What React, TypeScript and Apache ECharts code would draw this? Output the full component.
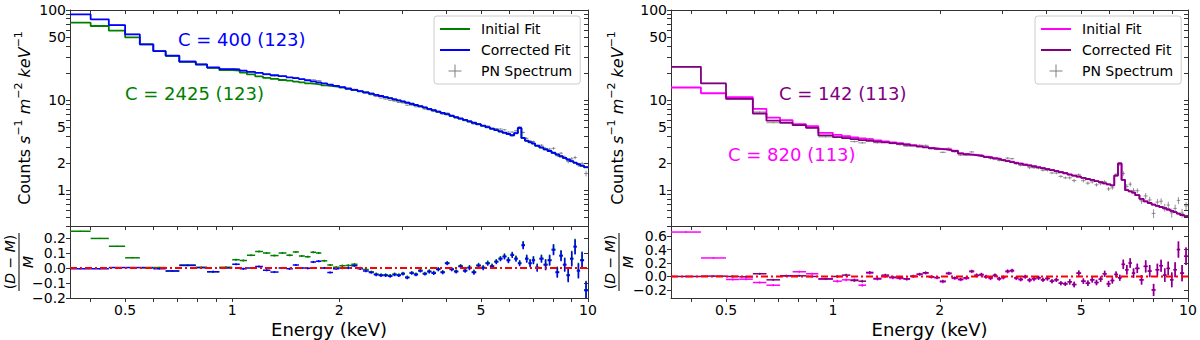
import React, { useEffect, useRef } from 'react';
import * as echarts from 'echarts';

// ---------------- data ----------------
const X_MIN = 0.35;
const X_MAX = 10;
const TOP_Y_MIN = 0.4;
const TOP_Y_MAX = 100;
const X_LABELS = [0.5, 1, 2, 5, 10];
const X_TICKS = [0.4, 0.5, 0.6, 0.7, 0.8, 0.9, 1, 2, 3, 4, 5, 6, 7, 8, 9, 10];
const TOP_Y_LABELS = [1, 2, 5, 10, 50, 100];
const TOP_Y_TICKS = [0.4, 0.5, 0.6, 0.7, 0.8, 0.9, 1, 2, 3, 4, 5, 6, 7, 8, 9, 10, 20, 30, 40, 50, 60, 70, 80, 90, 100];
const LEFT_RES_RANGE = [-0.2, 0.28];
const LEFT_RES_TICKS = [-0.2, -0.1, 0, 0.1, 0.2];
const RIGHT_RES_RANGE = [-0.32, 0.75];
const RIGHT_RES_TICKS = [-0.2, 0, 0.2, 0.4, 0.6];

const LEGEND_NAMES = ['Initial Fit', 'Corrected Fit', 'PN Spectrum'];
const LEFT_STATS = ['C = 400 (123)', 'C = 2425 (123)'];
const RIGHT_STATS = ['C = 142 (113)', 'C = 820 (113)'];

// Left panel
const LEFT_EDGES = [0.35, 0.40, 0.45, 0.50, 0.55, 0.60, 0.65, 0.71, 0.79, 0.85, 0.92, 1.0,
  1.05, 1.10, 1.16, 1.22, 1.28, 1.35, 1.42, 1.48, 1.54, 1.60, 1.66, 1.72, 1.78, 1.85, 1.92, 2.0,
  2.08, 2.16, 2.25, 2.33, 2.42, 2.50, 2.58, 2.66, 2.74, 2.82, 2.90, 2.98, 3.06, 3.15, 3.24, 3.33, 3.43, 3.53, 3.63, 3.74,
  3.85, 3.96, 4.08, 4.20, 4.32, 4.45, 4.58, 4.71, 4.85, 5.0, 5.15, 5.3, 5.45, 5.6, 5.75, 5.9, 6.05, 6.2, 6.35, 6.5,
  6.65, 6.8, 6.95, 7.1, 7.3, 7.5, 7.7, 7.9, 8.1, 8.3, 8.5, 8.7, 8.9, 9.1, 9.3, 9.5, 9.75, 10.0];
const LEFT_CORRECTED = [89.5, 78.8, 68.1, 53.7, 41.6, 35.0, 31.1, 26.7, 24.9, 23.1, 22.1,
  21.8, 21.2, 20.6, 20.0, 19.4, 18.9, 18.4, 17.9, 17.5, 17.05, 16.6, 16.15, 15.75, 15.3, 14.85, 14.35,
  13.9, 13.45, 13.0, 12.6, 12.2, 11.8, 11.45, 11.1, 10.8, 10.5, 10.2, 9.9, 9.68, 9.39, 9.10, 8.82, 8.55, 8.28, 8.0, 7.73,
  7.46, 7.2, 6.97, 6.70, 6.47, 6.24, 6.02, 5.81, 5.6, 5.40, 5.20, 5.0, 4.82, 4.65, 4.50, 4.35, 4.20, 4.07, 4.3, 4.9,
  3.8, 3.55, 3.42, 3.3, 3.12, 2.98, 2.84, 2.72, 2.6, 2.49, 2.38, 2.28, 2.19, 2.1, 2.02, 1.95, 1.87, 1.80];
const LEFT_INITIAL = [72.3, 66.4, 58.9, 49.7, 41.5, 34.9, 31.0, 26.6, 24.8, 22.8, 21.5,
  21.2, 20.2, 19.25, 18.35, 17.65, 17.2, 16.7, 16.4, 16.05, 15.7, 15.35, 15.1, 14.85, 14.55, 14.3, 14.05,
  13.75, 13.3, 12.9, 12.5, 12.15, 11.75, 11.4, 11.05, 10.75, 10.45, 10.15, 9.85, 9.63, 9.34, 9.05, 8.78, 8.51, 8.24, 7.96, 7.69,
  7.42, 7.16, 6.94, 6.67, 6.44, 6.21, 5.99, 5.78, 5.57, 5.37, 5.17, 4.98, 4.8, 4.63, 4.48, 4.33, 4.18, 4.05, 4.28, 4.88,
  3.78, 3.53, 3.4, 3.28, 3.1, 2.97, 2.83, 2.71, 2.59, 2.48, 2.37, 2.27, 2.18, 2.09, 2.01, 1.94, 1.86, 1.79];
const LEFT_RES_CORR = [-0.005, -0.005, 0.003, 0.003, 0.002, -0.005, -0.02, 0.017, 0.002, -0.025, 0.0,
  0.025, -0.005, 0.0, 0.01, -0.015, -0.027, 0.0, -0.005, 0.02, 0.0, -0.002, 0.04, 0.045, 0.0, -0.03, -0.005,
  0.0, 0.0, 0.015, -0.005, -0.02, -0.03, -0.045, -0.05, -0.05, -0.055, -0.045, -0.05, -0.04, -0.065, -0.035, -0.045, -0.02, -0.04, -0.025, -0.035,
  -0.01, -0.03, 0.03, -0.01, -0.025, 0.01, -0.02, 0.0, -0.03, 0.015, 0.0, 0.03, 0.01, 0.04, 0.06, 0.075, 0.05, 0.085, 0.06, 0.03,
  0.15, 0.06, 0.03, 0.05, 0.0, 0.06, 0.02, 0.05, 0.12, -0.03, 0.08, 0.02, -0.05, 0.06, 0.14, -0.02, 0.05, -0.15];
const LEFT_RES_INIT = [0.245, 0.197, 0.145, 0.068, 0.003, 0.003, -0.02, 0.02, 0.005, -0.025, 0.005,
  0.055, 0.05, 0.085, 0.11, 0.10, 0.083, 0.10, 0.085, 0.107, 0.08, 0.075, 0.105, 0.10, 0.048, 0.02, 0.005,
  0.015, 0.017, 0.025, 0.0, -0.01, -0.025, -0.04, -0.045, -0.045, -0.05, -0.04, -0.045, -0.035, -0.06, -0.03, -0.04, -0.015, -0.035, -0.02, -0.03,
  -0.005, -0.025, 0.035, -0.005, -0.02, 0.015, -0.015, 0.005, -0.025, 0.02, 0.005, 0.035, 0.015, 0.045, 0.065, 0.08, 0.055, 0.09, 0.065, 0.035,
  0.155, 0.065, 0.035, 0.055, 0.005, 0.065, 0.025, 0.055, 0.125, -0.025, 0.085, 0.025, -0.045, 0.065, 0.145, -0.015, 0.055, -0.145];
const LEFT_ERR = [0.004, 0.004, 0.004, 0.004, 0.004, 0.005, 0.005, 0.005, 0.005, 0.006, 0.006,
  0.007, 0.007, 0.007, 0.007, 0.007, 0.007, 0.007, 0.007, 0.007, 0.007, 0.007, 0.007, 0.007, 0.007, 0.007, 0.007,
  0.008, 0.008, 0.008, 0.008, 0.008, 0.008, 0.01, 0.01, 0.01, 0.01, 0.01, 0.01, 0.01, 0.01, 0.01, 0.01, 0.01, 0.01, 0.012, 0.012,
  0.012, 0.012, 0.012, 0.012, 0.012, 0.012, 0.012, 0.015, 0.015, 0.015, 0.015, 0.015, 0.015, 0.015, 0.015, 0.018, 0.018, 0.018, 0.018, 0.018,
  0.025, 0.025, 0.025, 0.025, 0.025, 0.025, 0.035, 0.035, 0.035, 0.035, 0.035, 0.045, 0.045, 0.05, 0.05, 0.05, 0.055, 0.06];

// Right panel
const RIGHT_EDGES = [0.35, 0.425, 0.50, 0.545, 0.595, 0.65, 0.71, 0.77, 0.84, 0.91, 1.0,
  1.06, 1.12, 1.18, 1.24, 1.30, 1.37, 1.44, 1.51, 1.58, 1.65, 1.72, 1.79, 1.86, 1.93, 2.0,
  2.08, 2.16, 2.25, 2.33, 2.42, 2.50, 2.58, 2.66, 2.74, 2.82, 2.90, 2.98, 3.06, 3.15, 3.24, 3.33, 3.43, 3.53, 3.63, 3.74,
  3.85, 3.96, 4.08, 4.20, 4.32, 4.45, 4.58, 4.71, 4.85, 5.0, 5.15, 5.3, 5.45, 5.6, 5.75, 5.9, 6.05, 6.2, 6.35, 6.5,
  6.65, 6.8, 6.95, 7.1, 7.3, 7.5, 7.7, 7.9, 8.1, 8.3, 8.5, 8.7, 8.9, 9.1, 9.3, 9.5, 9.75, 10.0];
const RIGHT_CORRECTED = [23.4, 15.3, 10.3, 10.3, 7.1, 5.9, 5.6, 5.27, 4.92, 4.05,
  3.88, 3.78, 3.68, 3.6, 3.53, 3.46, 3.39, 3.32, 3.26, 3.19, 3.12, 3.05, 2.98, 2.92, 2.87,
  2.83, 2.78, 2.72, 2.55, 2.5, 2.46, 2.42, 2.38, 2.33, 2.29, 2.24, 2.2, 2.15, 2.10, 2.05, 2.0, 1.96, 1.91, 1.87, 1.83,
  1.79, 1.75, 1.71, 1.67, 1.63, 1.58, 1.54, 1.49, 1.45, 1.41, 1.37, 1.33, 1.3, 1.26, 1.23, 1.19, 1.16, 1.13, 1.45, 1.98,
  1.3, 1.0, 0.97, 0.94, 0.88, 0.8, 0.75, 0.72, 0.69, 0.67, 0.65, 0.63, 0.61, 0.59, 0.57, 0.55, 0.53, 0.515];
const RIGHT_INITIAL = [13.8, 11.9, 10.8, 10.8, 8.0, 6.4, 6.0, 5.4, 5.14, 4.33,
  4.1, 3.98, 3.85, 3.75, 3.66, 3.57, 3.48, 3.4, 3.32, 3.24, 3.16, 3.08, 3.01, 2.94, 2.88,
  2.86, 2.81, 2.75, 2.58, 2.53, 2.48, 2.44, 2.40, 2.35, 2.31, 2.26, 2.22, 2.17, 2.12, 2.07, 2.02, 1.98, 1.93, 1.89, 1.85,
  1.8, 1.76, 1.72, 1.68, 1.64, 1.59, 1.55, 1.5, 1.45, 1.41, 1.37, 1.33, 1.3, 1.26, 1.23, 1.19, 1.16, 1.13, 1.45, 1.98,
  1.3, 1.0, 0.97, 0.94, 0.88, 0.8, 0.75, 0.72, 0.69, 0.67, 0.65, 0.63, 0.61, 0.59, 0.57, 0.55, 0.53, 0.515];
const RIGHT_RES_CORR = [0.0, 0.005, 0.0, -0.005, 0.04, -0.05, 0.01, 0.01, 0.0, -0.035,
  0.0, 0.02, -0.06, -0.07, 0.06, -0.03, 0.02, -0.01, -0.02, -0.035, 0.005, 0.035, 0.055, -0.005, -0.015,
  -0.07, 0.05, -0.02, -0.04, -0.02, 0.08, 0.02, 0.03, 0.0, -0.02, 0.02, -0.03, -0.01, 0.08, 0.09, -0.02, -0.04, 0.0, -0.05, -0.03,
  -0.02, -0.05, -0.03, -0.07, -0.05, -0.1, -0.11, -0.08, -0.12, 0.05, -0.07, -0.1, -0.05, -0.09, -0.04, 0.04, -0.11, -0.06, 0.03, -0.02,
  0.18, 0.1, 0.2, 0.05, 0.12, -0.05, 0.15, 0.08, -0.2, 0.1, 0.16, 0.02, 0.12, -0.05, 0.1, 0.4, 0.05, 0.3];
const RIGHT_RES_INIT = [0.66, 0.275, -0.045, -0.04, -0.09, -0.13, 0.01, 0.07, 0.04, -0.04,
  -0.07, -0.05, -0.05, -0.13, 0.05, -0.04, 0.0, -0.02, -0.03, -0.04, 0.0, 0.03, 0.05, -0.01, -0.02,
  -0.08, 0.04, -0.03, -0.05, -0.03, 0.07, 0.01, 0.02, -0.01, -0.03, 0.01, -0.04, -0.02, 0.07, 0.08, -0.03, -0.05, -0.01, -0.06, -0.04,
  -0.02, -0.05, -0.03, -0.07, -0.05, -0.1, -0.11, -0.08, -0.12, 0.05, -0.07, -0.1, -0.05, -0.09, -0.04, 0.04, -0.11, -0.06, 0.03, -0.02,
  0.18, 0.1, 0.2, 0.05, 0.12, -0.05, 0.15, 0.08, -0.2, 0.1, 0.16, 0.02, 0.12, -0.05, 0.1, 0.4, 0.05, 0.3];
const RIGHT_ERR = [0.012, 0.012, 0.015, 0.015, 0.015, 0.015, 0.015, 0.015, 0.015, 0.015,
  0.02, 0.02, 0.02, 0.02, 0.02, 0.02, 0.02, 0.02, 0.02, 0.02, 0.02, 0.02, 0.02, 0.02, 0.02,
  0.02, 0.02, 0.02, 0.02, 0.02, 0.02, 0.025, 0.025, 0.025, 0.025, 0.025, 0.025, 0.025, 0.025, 0.025, 0.025, 0.025, 0.025, 0.03, 0.03,
  0.03, 0.03, 0.03, 0.03, 0.03, 0.03, 0.03, 0.04, 0.04, 0.04, 0.04, 0.04, 0.04, 0.04, 0.04, 0.045, 0.045, 0.045, 0.045, 0.045,
  0.07, 0.07, 0.07, 0.07, 0.07, 0.07, 0.09, 0.09, 0.09, 0.09, 0.09, 0.1, 0.1, 0.11, 0.11, 0.12, 0.12, 0.13];

// ---------------- styling ----------------
const FONT = 'DejaVu Sans';
const AXIS = '#333333';
const L = (v: number) => Math.log10(v);

const LINE_ICON = 'path://M0 0H30V2H0Z';
const PLUS_ICON = 'path://M0 6H13V7H0Z M6 0H7V13H6Z';

type Panel = {
  edges: number[]; corrected: number[]; initial: number[];
  resCorr: number[]; resInit: number[]; err: number[];
  colInit: string; colCorr: string; suffix: string;
  resRange: number[]; resTicks: number[];
};

function stepLine(edges: number[], vals: number[]) {
  const out: number[][] = [];
  for (let i = 0; i < vals.length; i++) {
    out.push([L(edges[i]), L(vals[i])], [L(edges[i + 1]), L(vals[i])]);
  }
  return out;
}

function resBars(edges: number[], res: number[], err: number[]) {
  return res.map((r, i) => {
    const a = L(edges[i]);
    const b = L(edges[i + 1]);
    return [a, b, (a + b) / 2, r, r - err[i], r + err[i]];
  });
}

function specBars(edges: number[], model: number[], res: number[], err: number[]) {
  return model.map((m, i) => {
    const a = L(edges[i]);
    const b = L(edges[i + 1]);
    const d = m * (1 + res[i]);
    const e = m * err[i];
    return [a, b, (a + b) / 2, L(d), L(Math.max(d - e, 1e-3)), L(d + e)];
  });
}

const barRender = (color: string, width: number) => (_p: any, api: any) => {
  const p1 = api.coord([api.value(0), api.value(3)]);
  const p2 = api.coord([api.value(1), api.value(3)]);
  const q1 = api.coord([api.value(2), api.value(4)]);
  const q2 = api.coord([api.value(2), api.value(5)]);
  return {
    type: 'group',
    children: [
      { type: 'line', shape: { x1: p1[0], y1: p1[1], x2: p2[0], y2: p2[1] }, style: { stroke: color, lineWidth: width } },
      { type: 'line', shape: { x1: q1[0], y1: q1[1], x2: q2[0], y2: q2[1] }, style: { stroke: color, lineWidth: width } },
    ],
  };
};

const fmtPow = (v: number) => String(Math.round(Math.pow(10, v) * 100) / 100);
const fmtRes = (v: number) => (Math.abs(v) < 1e-9 ? '0.0' : v.toFixed(1).replace('-', '\u2212'));

const tickStyle = { color: AXIS, width: 1 };
const axisLine = { show: true, onZero: false, lineStyle: { color: AXIS, width: 1 } };
const labelStyle = {
  fontSize: 14, color: '#000', fontFamily: FONT,
  showMinLabel: true, showMaxLabel: true, hideOverlap: false, interval: 0,
};

function xAxes(grid: number, showLabels: boolean) {
  const common: any = {
    type: 'value', gridIndex: grid, min: L(X_MIN), max: L(X_MAX),
    splitLine: { show: false }, axisLine,
  };
  return [
    {
      ...common, position: 'bottom',
      axisTick: { show: true, inside: false, length: 4, interval: 0, customValues: X_TICKS.map(L), lineStyle: tickStyle },
      axisLabel: { show: showLabels, customValues: X_LABELS.map(L), formatter: fmtPow, margin: 5, ...labelStyle },
      name: showLabels ? 'Energy (keV)' : '', nameLocation: 'middle', nameGap: 22,
      nameTextStyle: { fontSize: 18, fontFamily: FONT, color: '#000' },
    },
    {
      ...common, position: 'top',
      axisTick: { show: true, inside: true, length: 4, interval: 0, customValues: X_TICKS.map(L), lineStyle: tickStyle },
      axisLabel: { show: false },
    },
  ];
}

const yNameRich = {
  a: { fontSize: 16, fontFamily: FONT, color: '#000', lineHeight: 22 },
  i: { fontSize: 16, fontFamily: FONT, fontStyle: 'italic', color: '#000', lineHeight: 22 },
  s: { fontSize: 11, fontFamily: FONT, color: '#000', lineHeight: 12, verticalAlign: 'top' },
};
const Y_NAME = '{a|Counts }{i|s}{s|\u22121}{a| }{i|m}{s|\u22122}{a| }{i|keV}{s|\u22121}';

function yAxesTop(grid: number, nameGap: number) {
  const common: any = {
    type: 'value', gridIndex: grid, min: L(TOP_Y_MIN), max: L(TOP_Y_MAX),
    splitLine: { show: false }, axisLine,
  };
  return [
    {
      ...common, position: 'left',
      axisTick: { show: true, inside: false, length: 4, interval: 0, customValues: TOP_Y_TICKS.map(L), lineStyle: tickStyle },
      axisLabel: { show: true, customValues: TOP_Y_LABELS.map(L), formatter: fmtPow, margin: 4, ...labelStyle },
      name: Y_NAME, nameLocation: 'middle', nameGap,
      nameTextStyle: { rich: yNameRich, fontSize: 16, fontFamily: FONT, color: '#000' },
    },
    {
      ...common, position: 'right',
      axisTick: { show: true, inside: true, length: 4, interval: 0, customValues: TOP_Y_TICKS.map(L), lineStyle: tickStyle },
      axisLabel: { show: false },
    },
  ];
}

// Residual y axes: the left axis carries every other label, an extra
// label-only axis (appended later) carries the rest so none get thinned out.
function yAxesRes(grid: number, range: number[], ticks: number[]) {
  const common: any = {
    type: 'value', gridIndex: grid, min: range[0], max: range[1],
    splitLine: { show: false }, axisLine,
  };
  return [
    {
      ...common, position: 'left',
      axisTick: { show: true, inside: false, length: 4, interval: 0, customValues: ticks, lineStyle: tickStyle },
      axisLabel: { show: true, customValues: ticks.filter((_, i) => i % 2 === 0), formatter: fmtRes, margin: 4, ...labelStyle, lineHeight: 12 },
    },
    {
      ...common, position: 'right',
      axisTick: { show: true, inside: true, length: 4, interval: 0, customValues: ticks, lineStyle: tickStyle },
      axisLabel: { show: false },
    },
  ];
}

function yAxisResExtra(grid: number, range: number[], ticks: number[]) {
  return {
    type: 'value', gridIndex: grid, min: range[0], max: range[1], position: 'left', offset: 0,
    splitLine: { show: false }, axisLine: { show: false, onZero: false }, axisTick: { show: false },
    axisLabel: { show: true, customValues: ticks.filter((_, i) => i % 2 === 1), formatter: fmtRes, margin: 4, ...labelStyle, lineHeight: 12 },
  };
}

function panelSeries(p: Panel, gTop: number, gBot: number) {
  const xt = gTop * 2, yt = gTop * 2, xb = gBot * 2, yb = gBot * 2;
  return [
    {
      type: 'custom', name: LEGEND_NAMES[2] + p.suffix, xAxisIndex: xt, yAxisIndex: yt,
      renderItem: barRender('rgba(110,110,110,0.75)', 1), clip: true,
      encode: { x: [0, 1, 2], y: [3, 4, 5] }, itemStyle: { color: '#808080' },
      data: specBars(p.edges, p.corrected, p.resCorr, p.err), silent: true,
    },
    {
      type: 'line', name: LEGEND_NAMES[0] + p.suffix, xAxisIndex: xt, yAxisIndex: yt,
      data: stepLine(p.edges, p.initial), showSymbol: false, symbol: 'none',
      lineStyle: { color: p.colInit, width: 1.8 }, itemStyle: { color: p.colInit }, silent: true,
    },
    {
      type: 'line', name: LEGEND_NAMES[1] + p.suffix, xAxisIndex: xt, yAxisIndex: yt,
      data: stepLine(p.edges, p.corrected), showSymbol: false, symbol: 'none',
      lineStyle: { color: p.colCorr, width: 1.8 }, itemStyle: { color: p.colCorr }, silent: true,
    },
    {
      type: 'custom', name: 'resInit' + gBot, xAxisIndex: xb, yAxisIndex: yb,
      renderItem: barRender(p.colInit, 1.5), clip: true,
      encode: { x: [0, 1, 2], y: [3, 4, 5] },
      data: resBars(p.edges, p.resInit, p.err), silent: true,
    },
    {
      type: 'custom', name: 'resCorr' + gBot, xAxisIndex: xb, yAxisIndex: yb,
      renderItem: barRender(p.colCorr, 1.5), clip: true,
      encode: { x: [0, 1, 2], y: [3, 4, 5] },
      data: resBars(p.edges, p.resCorr, p.err), silent: true,
    },
    {
      type: 'line', name: 'zero' + gBot, xAxisIndex: xb, yAxisIndex: yb,
      data: [[L(X_MIN), 0], [L(X_MAX), 0]], showSymbol: false, symbol: 'none',
      lineStyle: { color: '#ff0000', width: 2, type: [7, 3, 2, 3] }, silent: true,
    },
  ];
}

function legendFor(suffix: string, left: number) {
  return {
    orient: 'vertical', left, top: 16, selectedMode: false,
    itemWidth: 30, itemHeight: 13, itemGap: 5,
    padding: [5, 8, 5, 6],
    backgroundColor: 'rgba(255,255,255,0.8)', borderColor: '#cccccc', borderWidth: 1, borderRadius: 3,
    textStyle: { fontSize: 14, fontFamily: FONT, color: '#000', lineHeight: 16, padding: [0, 0, 0, 6] },
    formatter: (n: string) => n.trim(),
    data: [
      { name: LEGEND_NAMES[0] + suffix, icon: LINE_ICON },
      { name: LEGEND_NAMES[1] + suffix, icon: LINE_ICON },
      { name: LEGEND_NAMES[2] + suffix, icon: PLUS_ICON },
    ],
  };
}

function fraction(x: number, y: number) {
  const rich = {
    u: { fontSize: 14, fontFamily: FONT, fill: '#000' },
    i: { fontSize: 14, fontFamily: FONT, fontStyle: 'italic', fill: '#000' },
  };
  return {
    type: 'group', x, y, rotation: Math.PI / 2, silent: true,
    children: [
      { type: 'text', x: 0, y: -9, style: { text: '{u|(}{i|D}{u| \u2212 }{i|M}{u|)}', rich, align: 'center', verticalAlign: 'middle', fill: '#000', fontSize: 14, fontFamily: FONT } },
      { type: 'line', shape: { x1: -29, y1: 0, x2: 29, y2: 0 }, style: { stroke: '#000', lineWidth: 1 } },
      { type: 'text', x: 0, y: 9, style: { text: 'M', fontStyle: 'italic', fontSize: 14, fontFamily: FONT, fill: '#000', align: 'center', verticalAlign: 'middle' } },
    ],
  };
}

function statText(text: string, x: number, y: number, color: string) {
  return {
    type: 'text', x, y, silent: true,
    style: { text, fill: color, fontSize: 18, fontFamily: FONT, align: 'left', verticalAlign: 'middle' },
  };
}

function buildOption() {
  const left: Panel = {
    edges: LEFT_EDGES, corrected: LEFT_CORRECTED, initial: LEFT_INITIAL,
    resCorr: LEFT_RES_CORR, resInit: LEFT_RES_INIT, err: LEFT_ERR,
    colInit: '#008000', colCorr: '#0000ff', suffix: '',
    resRange: LEFT_RES_RANGE, resTicks: LEFT_RES_TICKS,
  };
  const right: Panel = {
    edges: RIGHT_EDGES, corrected: RIGHT_CORRECTED, initial: RIGHT_INITIAL,
    resCorr: RIGHT_RES_CORR, resInit: RIGHT_RES_INIT, err: RIGHT_ERR,
    colInit: '#ff00ff', colCorr: '#800080', suffix: ' ',
    resRange: RIGHT_RES_RANGE, resTicks: RIGHT_RES_TICKS,
  };
  const gridCommon = { outerBoundsMode: 'none', containLabel: false };
  return {
    animation: false,
    textStyle: { fontFamily: FONT },
    grid: [
      { ...gridCommon, left: 70, top: 10, width: 518, height: 216 },
      { ...gridCommon, left: 70, top: 226, width: 518, height: 72 },
      { ...gridCommon, left: 671, top: 10, width: 517, height: 216 },
      { ...gridCommon, left: 671, top: 226, width: 517, height: 72 },
    ],
    xAxis: [...xAxes(0, false), ...xAxes(1, true), ...xAxes(2, false), ...xAxes(3, true)],
    yAxis: [
      ...yAxesTop(0, 35),
      ...yAxesRes(1, left.resRange, left.resTicks),
      ...yAxesTop(2, 43),
      ...yAxesRes(3, right.resRange, right.resTicks),
      yAxisResExtra(1, left.resRange, left.resTicks),
      yAxisResExtra(3, right.resRange, right.resTicks),
    ],
    legend: [legendFor('', 434), legendFor(' ', 1035)],
    series: [...panelSeries(left, 0, 1), ...panelSeries(right, 2, 3)],
    graphic: [
      fraction(19, 262),
      fraction(619, 262),
      statText(LEFT_STATS[0], 178, 39, '#0000ff'),
      statText(LEFT_STATS[1], 125, 93, '#008000'),
      statText(RIGHT_STATS[0], 779, 93, '#800080'),
      statText(RIGHT_STATS[1], 728, 154, '#ff00ff'),
    ],
  };
}

export default function App() {
  const ref = useRef<HTMLDivElement>(null);
  useEffect(() => {
    if (!ref.current) return;
    const chart = echarts.init(ref.current, null, { renderer: 'svg' });
    chart.setOption(buildOption() as any);
    return () => chart.dispose();
  }, []);
  return <div ref={ref} style={{ position: 'absolute', left: 0, top: 0, width: 1200, height: 340 }} />;
}
